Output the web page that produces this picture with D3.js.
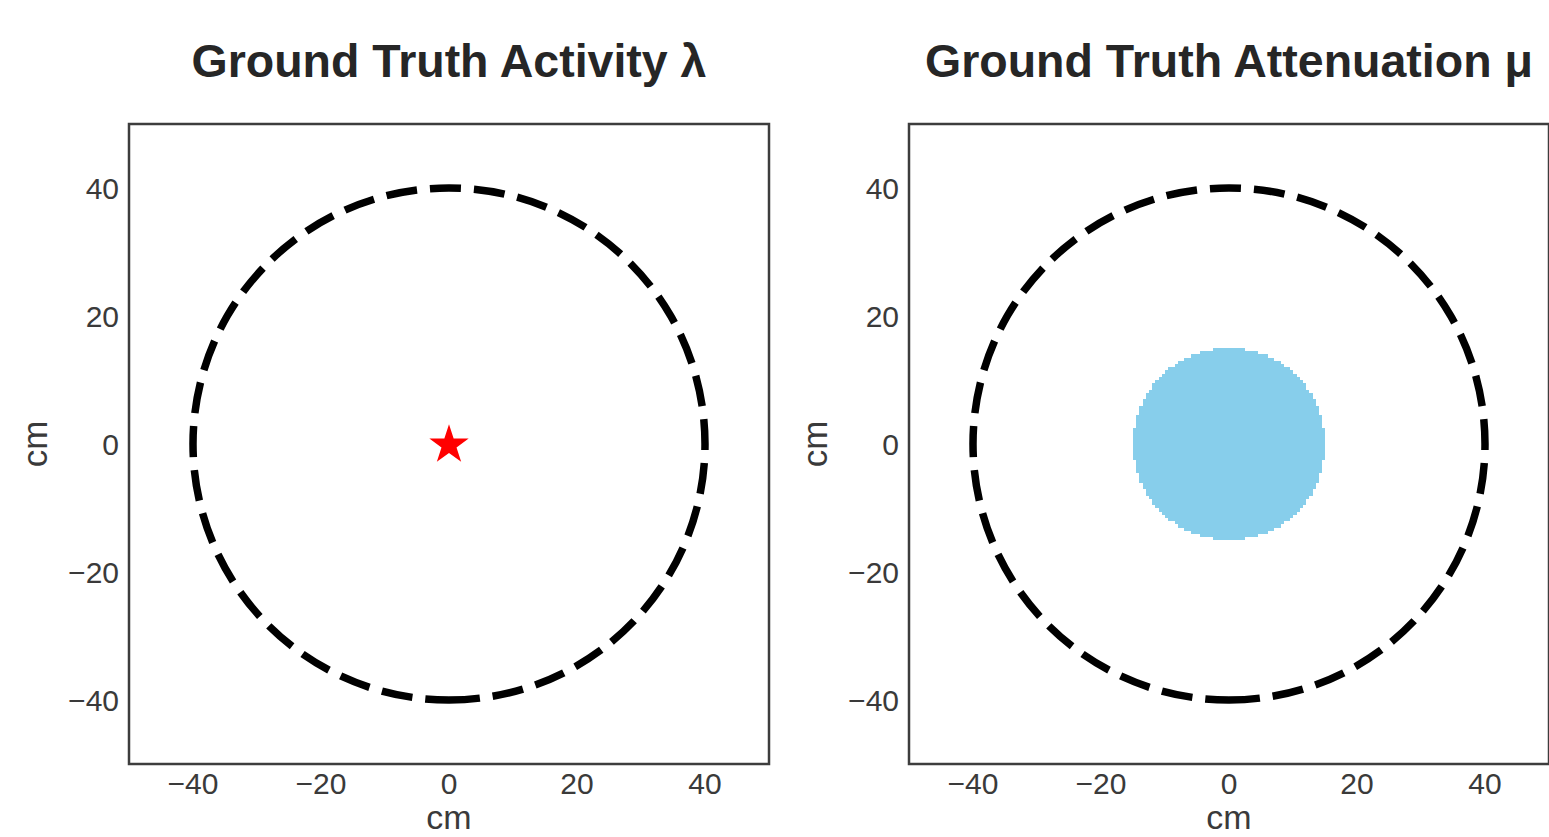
<!DOCTYPE html>
<html><head><meta charset="utf-8">
<script src="https://cdn.jsdelivr.net/npm/d3@7"></script>
<style>body{margin:0;background:#fff;}svg{display:block;font-family:"Liberation Sans",Arial,sans-serif;}</style>
</head><body>
<script>
const titles = ["Ground Truth Activity λ", "Ground Truth Attenuation μ"];
const xTicks = [-40, -20, 0, 20, 40];
const yTicks = [-40, -20, 0, 20, 40];
const domain = [-50, 50];
const detectorRadius = [40];          // dashed ring, cm
const sourcePoint = [{x: 0, y: 0}];  // red star
const attenuationDisk = {cx: 0, cy: 0, r: 15}; // μ phantom, cm
const gridN = 200;                    // phantom image resolution

const W = 1549, H = 837;
const svg = d3.select("body").append("svg").attr("width", W).attr("height", H);
const panelX = [129, 909], panelTop = 124, size = 640;

titles.forEach((t, i) => {
  const g = svg.append("g").attr("transform", `translate(${panelX[i]},${panelTop})`);
  const x = d3.scaleLinear().domain(domain).range([0, size]);
  const y = d3.scaleLinear().domain(domain).range([size, 0]);

  if (i === 1) {
    const step = (domain[1] - domain[0]) / gridN;
    const cells = [];
    for (let a = 0; a < gridN; a++) for (let b = 0; b < gridN; b++) {
      const cx = domain[0] + (a + 0.5) * step, cy = domain[0] + (b + 0.5) * step;
      if (Math.hypot(cx - attenuationDisk.cx, cy - attenuationDisk.cy) <= attenuationDisk.r)
        cells.push({x0: cx - step / 2, y0: cy - step / 2, s: step});
    }
    g.append("g").selectAll("rect").data(cells).join("rect")
      .attr("x", d => x(d.x0)).attr("y", d => y(d.y0 + d.s))
      .attr("width", d => x(d.x0 + d.s) - x(d.x0) + 0.3)
      .attr("height", d => y(d.y0) - y(d.y0 + d.s) + 0.3)
      .attr("fill", "#87ceeb").attr("shape-rendering", "crispEdges");
  }

  // dashed ring, starting at bottom, counter-clockwise like matplotlib
  detectorRadius.forEach(r => {
    const p = d3.path();
    const cx = x(0), cy = y(0), rp = x(r) - x(0);
    p.moveTo(cx, cy + rp);
    p.arc(cx, cy, rp, Math.PI / 2, Math.PI / 2 - 2 * Math.PI + 1e-6, true);
    g.append("path").attr("d", p.toString()).attr("fill", "none")
      .attr("stroke", "#000").attr("stroke-width", 7.5)
      .attr("stroke-dasharray", "31,13");
  });

  if (i === 0) {
    g.selectAll(".star").data(sourcePoint).join("path")
      .attr("d", d3.symbol(d3.symbolStar, 480))
      .attr("transform", d => `translate(${x(d.x)},${y(d.y) + 1})`)
      .attr("fill", "#ff0000");
  }

  g.append("rect").attr("x", 0).attr("y", 0).attr("width", size).attr("height", size)
    .attr("fill", "none").attr("stroke", "#3d3d3d").attr("stroke-width", 2.5);

  g.selectAll(".xt").data(xTicks).join("text")
    .attr("x", d => x(d)).attr("y", size + 30).attr("text-anchor", "middle")
    .attr("font-size", 30).attr("fill", "#3a3a3a").text(d => d < 0 ? "\u2212" + Math.abs(d) : d);
  g.selectAll(".yt").data(yTicks).join("text")
    .attr("x", -10).attr("y", d => y(d)).attr("dy", "0.36em").attr("text-anchor", "end")
    .attr("font-size", 30).attr("fill", "#3a3a3a").text(d => d < 0 ? "\u2212" + Math.abs(d) : d);

  g.append("text").attr("x", size / 2).attr("y", size + 65).attr("text-anchor", "middle")
    .attr("font-size", 34).attr("fill", "#3a3a3a").text("cm");
  g.append("text").attr("transform", `translate(${47 - panelX[0]},${size / 2}) rotate(-90)`)
    .attr("text-anchor", "middle").attr("font-size", 35).attr("fill", "#3a3a3a").text("cm");

  g.append("text").attr("x", size / 2).attr("y", 77 - panelTop).attr("text-anchor", "middle")
    .attr("font-size", 46.5).attr("font-weight", "bold").attr("fill", "#262626").text(t);
});
</script>
</body></html>
